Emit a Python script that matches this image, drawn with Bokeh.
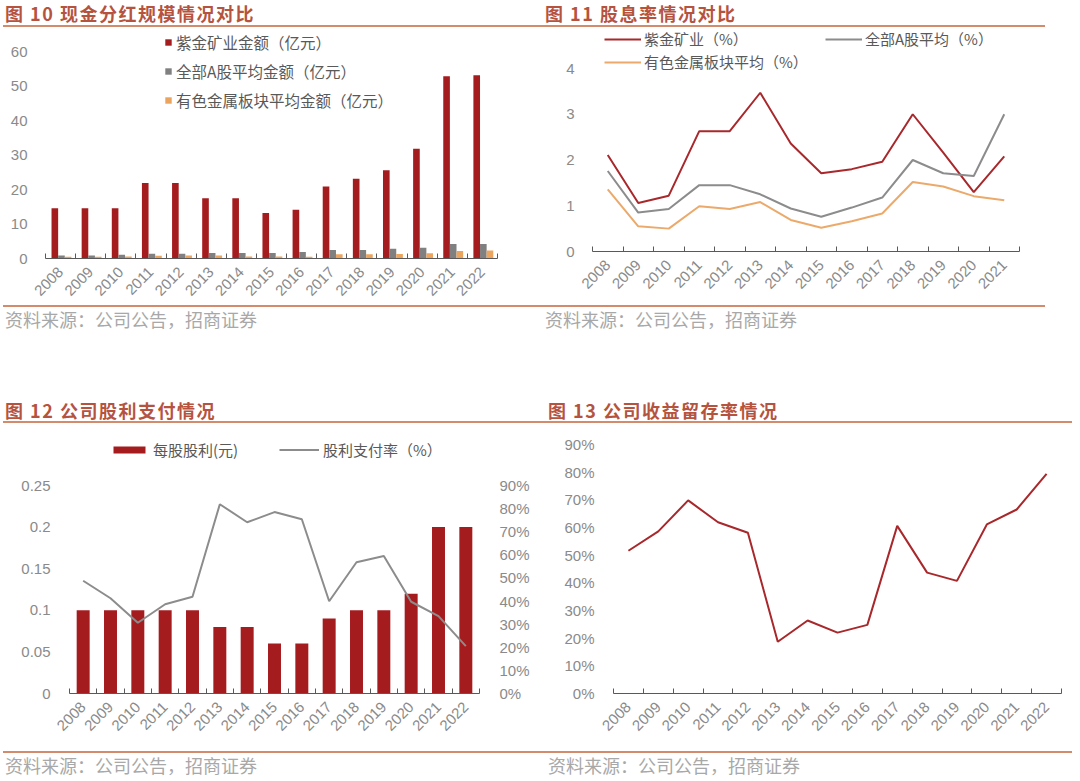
from math import pi
from bokeh.plotting import figure
from bokeh.models import (ColumnDataSource, Range1d, LinearAxis, FixedTicker, Legend, LegendItem,
                          Div, Spacer, NumeralTickFormatter, PrintfTickFormatter)
from bokeh.layouts import column, row
from bokeh.transform import dodge
from bokeh.embed import file_html
from bokeh.resources import INLINE

# ---------------- data ----------------
years = ['2008', '2009', '2010', '2011', '2012', '2013', '2014', '2015',
         '2016', '2017', '2018', '2019', '2020', '2021', '2022']
years_yield = years[:14]

# 图10 现金分红规模 (亿元)
zijin_amt = [14.6, 14.6, 14.6, 21.9, 21.9, 17.5, 17.5, 13.2, 14.1, 20.9, 23.1, 25.6, 31.8, 52.8, 53.1]
ashare_amt = [0.9, 0.9, 1.1, 1.4, 1.4, 1.6, 1.6, 1.6, 1.9, 2.5, 2.5, 2.8, 3.1, 4.2, 4.2]
nonfer_amt = [0.5, 0.5, 0.6, 0.8, 0.9, 0.9, 0.6, 0.6, 0.5, 1.2, 1.2, 1.3, 1.5, 2.2, 2.3]

# 图11 股息率 (%)
zijin_yield = [2.11, 1.06, 1.22, 2.63, 2.63, 3.47, 2.36, 1.71, 1.80, 1.96, 3.00, 2.16, 1.30, 2.08]
ashare_yield = [1.76, 0.85, 0.93, 1.45, 1.45, 1.25, 0.94, 0.76, 0.96, 1.18, 2.00, 1.71, 1.65, 3.00]
nonfer_yield = [1.36, 0.55, 0.50, 0.99, 0.93, 1.08, 0.69, 0.52, 0.66, 0.83, 1.52, 1.42, 1.21, 1.12]

# 图12 每股股利 (元) & 股利支付率 (%)
dps = [0.10, 0.10, 0.10, 0.10, 0.10, 0.08, 0.08, 0.06, 0.06, 0.09, 0.10, 0.10, 0.12, 0.20, 0.20]
payout = [48.8, 41.2, 30.6, 38.6, 41.9, 81.9, 74.1, 78.5, 75.4, 39.9, 56.8, 59.5, 39.7, 33.5, 20.5]

# 图13 收益留存率 (%)
retention = [51.6, 58.6, 69.8, 61.9, 58.1, 18.7, 26.4, 22.0, 24.8, 60.6, 43.7, 40.7, 61.1, 66.5, 79.4]

# ---------------- styles ----------------
TITLE_COLOR = "#B5533F"
RULE_COLOR = "#D48B6C"
SRC_COLOR = "#A8A8A8"
AX_COLOR = "#595959"
LBL_COLOR = "#8A8A8A"
RED = "#A51C1F"
GREY = "#808080"
ORANGE = "#EBA45E"
LINE_RED = "#A8282C"
LINE_GREY = "#8C8C8C"
LINE_ORANGE = "#EBAA6B"
CJK = "Noto Sans CJK SC"
LAT = "Liberation Sans"
SOURCE = "资料来源：公司公告，招商证券"


def title_div(text, w, h, text_left, text_top, line_left, line_right):
    html = (
        f'<div style="position:relative;width:{w}px;height:{h}px;font-family:\'{CJK}\';">'
        f'<div style="position:absolute;left:{text_left}px;top:{text_top}px;font-size:18px;'
        f'font-weight:bold;color:{TITLE_COLOR};line-height:18px;letter-spacing:1.5px;white-space:nowrap;">{text}</div>'
        f'<div style="position:absolute;left:{line_left}px;width:{line_right - line_left}px;top:{h - 2}px;'
        f'height:2px;background:{RULE_COLOR};"></div></div>'
    )
    return Div(text=html, width=w, height=h, margin=0)


def source_div(w, h, text_left, text_top, line_left, line_right):
    html = (
        f'<div style="position:relative;width:{w}px;height:{h}px;font-family:\'{CJK}\';">'
        f'<div style="position:absolute;left:{line_left}px;width:{line_right - line_left}px;top:0px;'
        f'height:2px;background:{RULE_COLOR};"></div>'
        f'<div style="position:absolute;left:{text_left}px;top:{text_top}px;font-size:18px;'
        f'color:{SRC_COLOR};line-height:18px;white-space:nowrap;">{SOURCE}</div></div>'
    )
    return Div(text=html, width=w, height=h, margin=0)


def stretched(axis_max, px_axis, px_frame):
    # range end so that axis_max sits px_axis above the frame bottom in a frame px_frame tall
    return axis_max * px_frame / px_axis


def style_yaxis(ax, standoff):
    ax.axis_line_color = None
    ax.major_tick_line_color = None
    ax.minor_tick_line_color = None
    ax.major_label_standoff = standoff
    ax.major_label_text_font = LAT
    ax.major_label_text_font_size = "15px"
    ax.major_label_text_color = LBL_COLOR


def base_fig(w, h, labels, ymax, yticks, left, right, top, bottom, ystandoff):
    n = len(labels)
    p = figure(width=w, height=h, output_backend="svg", toolbar_location=None, tools="",
               x_range=Range1d(-0.5, n - 0.5), y_range=Range1d(0, ymax),
               min_border_left=left, min_border_right=right,
               min_border_top=top, min_border_bottom=bottom,
               outline_line_color=None, background_fill_color="white",
               border_fill_color="white", margin=0)
    p.xgrid.visible = False
    p.ygrid.visible = False
    xa = p.xaxis[0]
    xa.ticker = FixedTicker(ticks=list(range(n)), minor_ticks=[i - 0.5 for i in range(n + 1)])
    xa.major_label_overrides = {i: lab for i, lab in enumerate(labels)}
    xa.major_tick_line_color = None
    xa.minor_tick_in = 5
    xa.minor_tick_out = 0
    xa.minor_tick_line_color = AX_COLOR
    xa.axis_line_color = AX_COLOR
    xa.major_label_orientation = pi / 4
    xa.major_label_standoff = 5
    xa.major_label_text_font = LAT
    xa.major_label_text_font_size = "15px"
    xa.major_label_text_color = LBL_COLOR
    ya = p.yaxis[0]
    ya.ticker = FixedTicker(ticks=yticks)
    style_yaxis(ya, ystandoff)
    return p


def style_legend(lg, font_size, spacing, gw, gh, standoff, label_width=20):
    lg.border_line_color = None
    lg.background_fill_alpha = 0
    lg.padding = 0
    lg.margin = 0
    lg.spacing = spacing
    lg.glyph_width = gw
    lg.glyph_height = gh
    lg.label_standoff = standoff
    lg.label_text_font = CJK
    lg.label_text_font_size = font_size
    lg.label_text_color = "#595959"
    lg.label_height = 20
    lg.label_width = label_width
    lg.label_text_baseline = "middle"


# ---------------- 图10 ----------------
src1 = ColumnDataSource(dict(idx=list(range(len(years))), zijin=zijin_amt, ashare=ashare_amt, nonfer=nonfer_amt))
p1 = base_fig(540, 278, years, stretched(60, 207, 228), [0, 10, 20, 30, 40, 50, 60], 45, 43, 3, 47, 12)
r11 = p1.vbar(x=dodge('idx', -0.19, range=p1.x_range), top='zijin', width=0.22, source=src1,
              fill_color=RED, line_color=None)
r12 = p1.vbar(x=dodge('idx', 0.03, range=p1.x_range), top='ashare', width=0.22, source=src1,
              fill_color=GREY, line_color=None)
r13 = p1.vbar(x=dodge('idx', 0.25, range=p1.x_range), top='nonfer', width=0.22, source=src1,
              fill_color=ORANGE, line_color=None)
lg1 = Legend(items=[LegendItem(label="紫金矿业金额（亿元）", renderers=[r11]),
                    LegendItem(label="全部A股平均金额（亿元）", renderers=[r12]),
                    LegendItem(label="有色金属板块平均金额（亿元）", renderers=[r13])],
             location=(119, 147), orientation="vertical")
style_legend(lg1, "15.5px", 7, 8, 8, 4)
p1.add_layout(lg1)

# ---------------- 图11 ----------------
src2 = ColumnDataSource(dict(idx=list(range(len(years_yield))), zijin=zijin_yield,
                             ashare=ashare_yield, nonfer=nonfer_yield))
p2 = base_fig(540, 278, years_yield, stretched(4, 183, 222), [0, 1, 2, 3, 4], 52, 61, 2, 54, 12)
r21 = p2.line('idx', 'zijin', source=src2, line_color=LINE_RED, line_width=2)
r22 = p2.line('idx', 'ashare', source=src2, line_color=LINE_GREY, line_width=2)
r23 = p2.line('idx', 'nonfer', source=src2, line_color=LINE_ORANGE, line_width=2)
lg2 = Legend(items=[LegendItem(label="紫金矿业（%）", renderers=[r21]),
                    LegendItem(label="全部A股平均（%）", renderers=[r22]),
                    LegendItem(label="有色金属板块平均（%）", renderers=[r23])],
             location=(12, 179), orientation="horizontal", ncols=2)
style_legend(lg2, "15px", 2, 37, 20, 3, label_width=179)
p2.add_layout(lg2)

# ---------------- 图12 ----------------
src3 = ColumnDataSource(dict(idx=list(range(len(years))), dps=dps, payout=payout))
p3 = base_fig(540, 328, years, stretched(0.25, 208, 268), [0, 0.05, 0.1, 0.15, 0.2, 0.25], 69, 61, 2, 58, 13)
p3.yaxis[0].formatter = NumeralTickFormatter(format="0.[00]")
p3.extra_y_ranges = {"pct": Range1d(0, stretched(90, 208, 268))}
r31 = p3.vbar(x='idx', top='dps', width=0.475, source=src3, fill_color=RED, line_color=None)
r32 = p3.line('idx', 'payout', source=src3, y_range_name="pct", line_color=LINE_GREY, line_width=2)
ra = LinearAxis(y_range_name="pct", ticker=FixedTicker(ticks=[0, 10, 20, 30, 40, 50, 60, 70, 80, 90]),
                formatter=PrintfTickFormatter(format="%d%%"))
style_yaxis(ra, 14)
p3.add_layout(ra, "right")
lg3 = Legend(items=[LegendItem(label="每股股利(元)", renderers=[r31]),
                    LegendItem(label="股利支付率（%）", renderers=[r32])],
             location=(40, 233), orientation="horizontal")
style_legend(lg3, "15px", 26, 40, 9, 4, label_width=100)
p3.add_layout(lg3)

# ---------------- 图13 ----------------
src4 = ColumnDataSource(dict(idx=list(range(len(years))), ret=retention))
p4 = base_fig(540, 328, years, 90, [0, 10, 20, 30, 40, 50, 60, 70, 80, 90], 73, 19, 21, 58, 13)
p4.yaxis[0].formatter = PrintfTickFormatter(format="%d%%")
p4.line('idx', 'ret', source=src4, line_color=LINE_RED, line_width=2)

# ---------------- layout ----------------
c1 = column(title_div("图 10 现金分红规模情况对比", 540, 27, 5, 4, 3, 540), p1,
            source_div(540, 25, 5, 5, 3, 540), margin=0, spacing=0)
c2 = column(title_div("图 11 股息率情况对比", 540, 27, 5, 4, 0, 505), p2,
            source_div(540, 25, 5, 5, 0, 505), margin=0, spacing=0)
c3 = column(title_div("图 12 公司股利支付情况", 540, 31, 5, 9, 3, 540), p3,
            source_div(540, 25, 5, 5, 3, 540), margin=0, spacing=0)
c4 = column(title_div("图 13 公司收益留存率情况", 540, 31, 8, 9, 0, 532), p4,
            source_div(540, 25, 8, 5, 0, 532), margin=0, spacing=0)

layout = column(row(c1, c2, margin=0, spacing=0),
                Spacer(width=10, height=62, margin=0),
                row(c3, c4, margin=0, spacing=0),
                margin=0, spacing=0)

with open("out.html", "w") as f:
    f.write(file_html(layout, INLINE))
